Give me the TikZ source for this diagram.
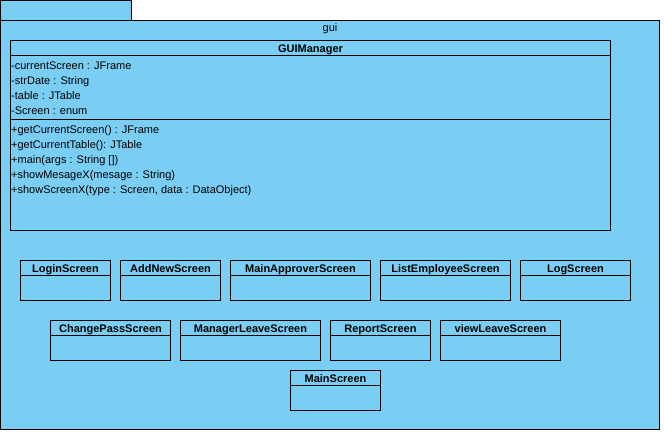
\documentclass[tikz,border=0pt]{standalone}
\usepackage{fontspec}
\setmainfont{Liberation Sans}
\usetikzlibrary{calc}
\definecolor{pkgblue}{RGB}{122,206,244}
\tikzset{
  ln/.style={draw=black, line width=1pt},
  boxshape/.style={ln, fill=pkgblue, rectangle, inner sep=0pt, outer sep=0pt, anchor=north west},
  titletext/.style={font=\fontsize{11}{13}\selectfont\bfseries, inner sep=0pt, anchor=base},
  membertext/.style={font=\fontsize{11}{13}\selectfont, inner sep=0pt, anchor=base west},
}
\newcommand\umlbox[6]{%
  \node[boxshape, minimum width={#4pt-#2pt}, minimum height={#5pt-#3pt}] (#1) at (#2,#3) {};
  \draw[ln] ($(#1.north west)+(0,15)$) -- ($(#1.north east)+(0,15)$);
  \node[titletext] (#1-t) at ($(#1.north)+(0,11.8)$) {#6};
}
\begin{document}
\begin{tikzpicture}[x=1pt, y=-1pt]
\useasboundingbox (0,0) rectangle (664,434);
% package
\node[boxshape, minimum width=131pt, minimum height=20pt] (tab) at (0.5,0.5) {};
\node[boxshape, minimum width=659pt, minimum height=409pt] (pkg) at (0.5,20.5) {};
\node[membertext, anchor=base] (pkglabel) at (330,31.5) {gui};
% GUIManager
\node[boxshape, minimum width=600pt, minimum height=190pt] (gm) at (10.5,40.5) {};
\draw[ln] ($(gm.north west)+(0,15)$) -- ($(gm.north east)+(0,15)$);
\draw[ln] ($(gm.north west)+(0,79)$) -- ($(gm.north east)+(0,79)$);
\node[titletext] (gm-t) at ($(gm.north)+(0,11.8)$) {GUIManager};
\node[membertext] (a1) at (11,69) {-currentScreen : JFrame};
\node[membertext] (a2) at (11,84) {-strDate : String};
\node[membertext] (a3) at (11,99) {-table : JTable};
\node[membertext] (a4) at (11,114) {-Screen : enum};
\node[membertext] (m1) at (11,133) {+getCurrentScreen() : JFrame};
\node[membertext] (m2) at (11,148) {+getCurrentTable(): JTable};
\node[membertext] (m3) at (11,163) {+main(args : String [])};
\node[membertext] (m4) at (11,178) {+showMesageX(mesage : String)};
\node[membertext] (m5) at (11,193) {+showScreenX(type : Screen, data : DataObject)};
% row 1
\umlbox{login}{20.5}{260.5}{110.5}{300.5}{LoginScreen}
\umlbox{addnew}{120.5}{260.5}{220.5}{300.5}{AddNewScreen}
\umlbox{mainappr}{230.5}{260.5}{370.5}{300.5}{MainApproverScreen}
\umlbox{listemp}{380.5}{260.5}{510.5}{300.5}{ListEmployeeScreen}
\umlbox{logscr}{520.5}{260.5}{630.5}{300.5}{LogScreen}
% row 2
\umlbox{chpass}{50.5}{320.5}{170.5}{360.5}{ChangePassScreen}
\umlbox{mgrleave}{180.5}{320.5}{320.5}{360.5}{ManagerLeaveScreen}
\umlbox{report}{330.5}{320.5}{430.5}{360.5}{ReportScreen}
\umlbox{viewleave}{440.5}{320.5}{560.5}{360.5}{viewLeaveScreen}
% row 3
\umlbox{mainscr}{290.5}{370.5}{380.5}{410.5}{MainScreen}
\end{tikzpicture}
\end{document}
